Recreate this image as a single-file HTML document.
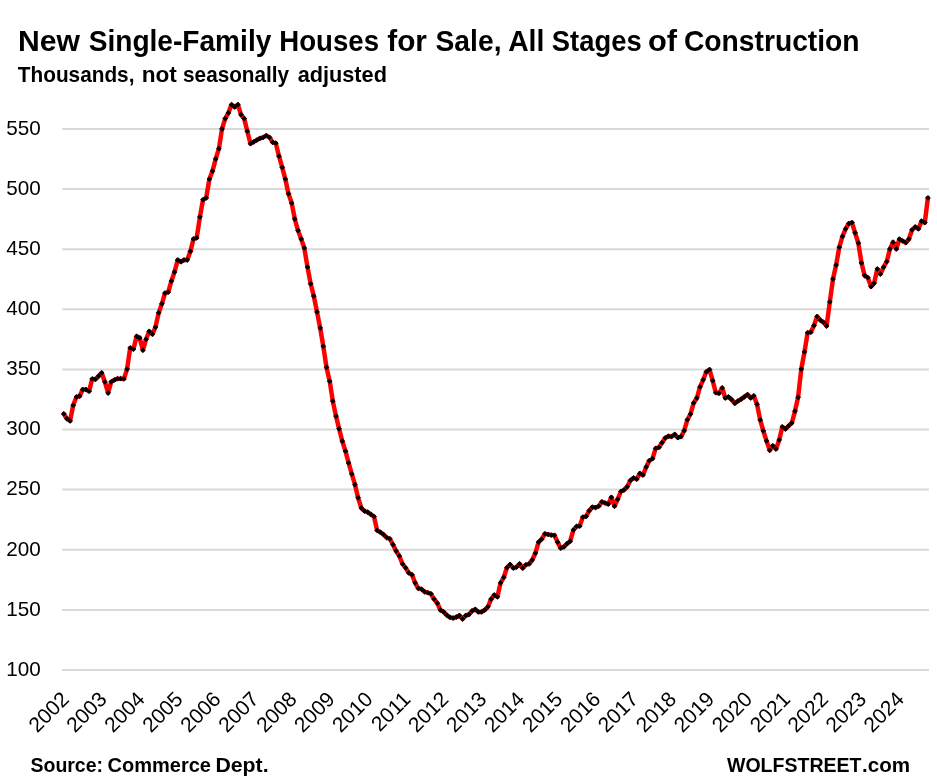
<!DOCTYPE html>
<html><head><meta charset="utf-8"><title>New Single-Family Houses for Sale</title>
<style>
html,body{margin:0;padding:0;background:#fff;}
body{width:937px;height:782px;overflow:hidden;position:relative;font-family:"Liberation Sans",sans-serif;color:#000;}
svg{position:absolute;left:0;top:0;}
text{font-family:"Liberation Sans",sans-serif;fill:#000;}
.t1{font-weight:bold;font-size:30px;}
.t2{font-weight:bold;font-size:22px;}
.ax text{font-size:21px;}
.yr text{font-size:21px;}
.ft{font-weight:bold;font-size:21px;}
</style></head><body>
<svg width="937" height="782" viewBox="0 0 937 782">
<rect width="937" height="782" fill="#fff"/>
<text class="t1" y="50.5"><tspan x="18.03" textLength="61.97" lengthAdjust="spacingAndGlyphs">New</tspan> <tspan x="88.69" textLength="182.62" lengthAdjust="spacingAndGlyphs">Single-Family</tspan> <tspan x="279.34" textLength="99.69" lengthAdjust="spacingAndGlyphs">Houses</tspan> <tspan x="387.27" textLength="39.64" lengthAdjust="spacingAndGlyphs">for</tspan> <tspan x="435.50" textLength="65.99" lengthAdjust="spacingAndGlyphs">Sale,</tspan> <tspan x="508.18" textLength="36.16" lengthAdjust="spacingAndGlyphs">All</tspan> <tspan x="551.87" textLength="89.79" lengthAdjust="spacingAndGlyphs">Stages</tspan> <tspan x="648.03" textLength="29.07" lengthAdjust="spacingAndGlyphs">of</tspan> <tspan x="683.88" textLength="175.74" lengthAdjust="spacingAndGlyphs">Construction</tspan></text>
<text class="t2" y="82.4"><tspan x="17.80" textLength="116.64" lengthAdjust="spacingAndGlyphs">Thousands,</tspan> <tspan x="141.66" textLength="35.16" lengthAdjust="spacingAndGlyphs">not</tspan> <tspan x="183.08" textLength="106.02" lengthAdjust="spacingAndGlyphs">seasonally</tspan> <tspan x="297.67" textLength="89.26" lengthAdjust="spacingAndGlyphs">adjusted</tspan></text>
<g stroke="#d9d9d9" stroke-width="2"><line x1="62.1" x2="928.9" y1="670.0" y2="670.0"/><line x1="62.1" x2="928.9" y1="609.9" y2="609.9"/><line x1="62.1" x2="928.9" y1="549.8" y2="549.8"/><line x1="62.1" x2="928.9" y1="489.6" y2="489.6"/><line x1="62.1" x2="928.9" y1="429.5" y2="429.5"/><line x1="62.1" x2="928.9" y1="369.4" y2="369.4"/><line x1="62.1" x2="928.9" y1="309.3" y2="309.3"/><line x1="62.1" x2="928.9" y1="249.2" y2="249.2"/><line x1="62.1" x2="928.9" y1="189.0" y2="189.0"/><line x1="62.1" x2="928.9" y1="128.9" y2="128.9"/></g>
<g class="ax"><text x="6.3" y="675.7" textLength="34.5" lengthAdjust="spacingAndGlyphs">100</text><text x="6.3" y="615.6" textLength="34.5" lengthAdjust="spacingAndGlyphs">150</text><text x="6.3" y="555.5" textLength="34.5" lengthAdjust="spacingAndGlyphs">200</text><text x="6.3" y="495.3" textLength="34.5" lengthAdjust="spacingAndGlyphs">250</text><text x="6.3" y="435.2" textLength="34.5" lengthAdjust="spacingAndGlyphs">300</text><text x="6.3" y="375.1" textLength="34.5" lengthAdjust="spacingAndGlyphs">350</text><text x="6.3" y="315.0" textLength="34.5" lengthAdjust="spacingAndGlyphs">400</text><text x="6.3" y="254.9" textLength="34.5" lengthAdjust="spacingAndGlyphs">450</text><text x="6.3" y="194.7" textLength="34.5" lengthAdjust="spacingAndGlyphs">500</text><text x="6.3" y="134.6" textLength="34.5" lengthAdjust="spacingAndGlyphs">550</text></g>
<g class="yr"><text transform="translate(70.2 700.5) rotate(-45)" text-anchor="end">2002</text><text transform="translate(108.1 700.5) rotate(-45)" text-anchor="end">2003</text><text transform="translate(146.1 700.5) rotate(-45)" text-anchor="end">2004</text><text transform="translate(184.1 700.5) rotate(-45)" text-anchor="end">2005</text><text transform="translate(222.0 700.5) rotate(-45)" text-anchor="end">2006</text><text transform="translate(260.0 700.5) rotate(-45)" text-anchor="end">2007</text><text transform="translate(298.0 700.5) rotate(-45)" text-anchor="end">2008</text><text transform="translate(335.9 700.5) rotate(-45)" text-anchor="end">2009</text><text transform="translate(373.9 700.5) rotate(-45)" text-anchor="end">2010</text><text transform="translate(411.8 700.5) rotate(-45)" text-anchor="end">2011</text><text transform="translate(449.8 700.5) rotate(-45)" text-anchor="end">2012</text><text transform="translate(487.8 700.5) rotate(-45)" text-anchor="end">2013</text><text transform="translate(525.7 700.5) rotate(-45)" text-anchor="end">2014</text><text transform="translate(563.7 700.5) rotate(-45)" text-anchor="end">2015</text><text transform="translate(601.7 700.5) rotate(-45)" text-anchor="end">2016</text><text transform="translate(639.6 700.5) rotate(-45)" text-anchor="end">2017</text><text transform="translate(677.6 700.5) rotate(-45)" text-anchor="end">2018</text><text transform="translate(715.5 700.5) rotate(-45)" text-anchor="end">2019</text><text transform="translate(753.5 700.5) rotate(-45)" text-anchor="end">2020</text><text transform="translate(791.5 700.5) rotate(-45)" text-anchor="end">2021</text><text transform="translate(829.4 700.5) rotate(-45)" text-anchor="end">2022</text><text transform="translate(867.4 700.5) rotate(-45)" text-anchor="end">2023</text><text transform="translate(905.3 700.5) rotate(-45)" text-anchor="end">2024</text></g>
<path d="M63.8 413.9 L66.9 418.7 L70.1 420.9 L73.2 405.2 L76.4 397.0 L79.6 396.2 L82.7 389.5 L85.9 389.5 L89.1 391.2 L92.2 378.9 L95.4 379.3 L98.6 376.1 L101.7 372.9 L104.9 381.9 L108.1 393.0 L111.2 381.9 L114.4 379.9 L117.6 378.7 L120.7 378.7 L123.9 378.9 L127.1 369.1 L130.2 347.9 L133.4 349.2 L136.6 336.4 L139.7 337.9 L142.9 350.2 L146.1 339.2 L149.2 331.3 L152.4 334.2 L155.5 327.1 L158.7 312.8 L161.9 303.8 L165.0 293.1 L168.2 292.2 L171.4 281.1 L174.5 272.1 L177.7 260.0 L180.9 261.8 L184.0 260.0 L187.2 260.0 L190.4 251.4 L193.5 239.0 L196.7 237.9 L199.9 217.0 L203.0 199.8 L206.2 197.9 L209.4 179.0 L212.5 171.1 L215.7 158.9 L218.9 148.7 L222.0 129.0 L225.2 118.6 L228.4 112.9 L231.5 104.7 L234.7 107.0 L237.9 104.7 L241.0 114.7 L244.2 118.6 L247.3 131.2 L250.5 143.7 L253.7 141.9 L256.8 140.1 L260.0 138.3 L263.2 137.4 L266.3 135.6 L269.5 137.4 L272.7 142.4 L275.8 143.2 L279.0 156.2 L282.2 167.3 L285.3 179.0 L288.5 193.8 L291.7 203.1 L294.8 219.0 L298.0 230.5 L301.2 239.0 L304.3 248.0 L307.5 267.1 L310.7 283.8 L313.8 296.1 L317.0 311.9 L320.2 328.0 L323.3 346.3 L326.5 367.4 L329.7 381.2 L332.8 401.1 L336.0 416.1 L339.1 428.8 L342.3 441.2 L345.5 451.2 L348.6 462.9 L351.8 474.0 L355.0 484.7 L358.1 497.8 L361.3 508.0 L364.5 511.1 L367.6 512.1 L370.8 514.3 L374.0 516.6 L377.1 530.4 L380.3 532.2 L383.5 534.5 L386.6 537.5 L389.8 538.8 L393.0 544.7 L396.1 551.0 L399.3 556.0 L402.5 563.9 L405.6 567.8 L408.8 572.9 L412.0 574.8 L415.1 582.8 L418.3 588.3 L421.5 589.2 L424.6 591.8 L427.8 592.7 L430.9 593.8 L434.1 599.1 L437.3 603.2 L440.4 610.0 L443.6 611.9 L446.8 615.1 L449.9 617.3 L453.1 618.1 L456.3 617.1 L459.4 615.5 L462.6 619.0 L465.8 615.5 L468.9 614.5 L472.1 610.9 L475.3 609.4 L478.4 611.9 L481.6 611.9 L484.8 610.0 L487.9 606.8 L491.1 599.1 L494.3 595.0 L497.4 596.8 L500.6 582.8 L503.8 577.3 L506.9 567.7 L510.1 564.5 L513.3 568.1 L516.4 567.1 L519.6 563.9 L522.7 568.1 L525.9 564.8 L529.1 563.9 L532.2 560.0 L535.4 553.2 L538.6 542.1 L541.7 539.2 L544.9 533.8 L548.1 534.4 L551.2 535.1 L554.4 535.3 L557.6 542.1 L560.7 548.1 L563.9 546.8 L567.1 543.6 L570.2 541.2 L573.4 529.9 L576.6 526.4 L579.7 526.1 L582.9 517.1 L586.1 516.5 L589.2 510.7 L592.4 507.1 L595.6 507.5 L598.7 506.2 L601.9 501.8 L605.1 503.0 L608.2 504.1 L611.4 497.3 L614.5 506.2 L617.7 499.2 L620.9 491.5 L624.0 490.0 L627.2 486.8 L630.4 480.4 L633.5 477.9 L636.7 479.1 L639.9 473.4 L643.0 475.0 L646.2 467.0 L649.4 460.6 L652.5 458.7 L655.7 448.4 L658.9 447.4 L662.0 442.7 L665.2 437.9 L668.4 436.2 L671.5 436.5 L674.7 434.4 L677.9 437.7 L681.0 436.7 L684.2 430.7 L687.4 419.7 L690.5 414.0 L693.7 402.9 L696.9 398.0 L700.0 386.9 L703.2 379.8 L706.3 371.8 L709.5 369.6 L712.7 380.7 L715.8 392.7 L719.0 393.3 L722.2 387.9 L725.3 398.0 L728.5 396.9 L731.7 399.7 L734.8 403.3 L738.0 401.0 L741.2 399.1 L744.3 396.9 L747.5 394.6 L750.7 398.0 L753.8 395.9 L757.0 404.2 L760.2 419.9 L763.3 430.8 L766.5 440.9 L769.7 450.3 L772.8 445.8 L776.0 449.0 L779.2 440.0 L782.3 426.9 L785.5 429.0 L788.6 425.9 L791.8 423.0 L795.0 411.1 L798.1 397.3 L801.3 369.0 L804.5 351.9 L807.6 332.8 L810.8 332.2 L814.0 325.6 L817.1 316.5 L820.3 320.1 L823.5 322.4 L826.6 326.0 L829.8 302.0 L833.0 279.0 L836.1 265.1 L839.3 247.2 L842.5 236.4 L845.6 228.9 L848.8 223.5 L852.0 222.6 L855.1 232.8 L858.3 243.0 L861.5 262.9 L864.6 275.5 L867.8 277.6 L871.0 286.6 L874.1 283.3 L877.3 269.0 L880.4 274.0 L883.6 267.2 L886.8 261.5 L889.9 249.0 L893.1 242.2 L896.3 249.0 L899.4 239.1 L902.6 240.9 L905.8 242.7 L908.9 239.1 L912.1 229.8 L915.3 226.9 L918.4 228.9 L921.6 221.2 L924.8 222.6 L927.9 197.9" fill="none" stroke="#ff0000" stroke-width="4.5" stroke-linejoin="round" stroke-linecap="round"/>
<path d="M63.8 411.5l2.4 2.4l-2.4 2.4l-2.4-2.4zM66.9 416.3l2.4 2.4l-2.4 2.4l-2.4-2.4zM70.1 418.5l2.4 2.4l-2.4 2.4l-2.4-2.4zM73.2 402.8l2.4 2.4l-2.4 2.4l-2.4-2.4zM76.4 394.6l2.4 2.4l-2.4 2.4l-2.4-2.4zM79.6 393.8l2.4 2.4l-2.4 2.4l-2.4-2.4zM82.7 387.1l2.4 2.4l-2.4 2.4l-2.4-2.4zM85.9 387.1l2.4 2.4l-2.4 2.4l-2.4-2.4zM89.1 388.8l2.4 2.4l-2.4 2.4l-2.4-2.4zM92.2 376.5l2.4 2.4l-2.4 2.4l-2.4-2.4zM95.4 376.9l2.4 2.4l-2.4 2.4l-2.4-2.4zM98.6 373.7l2.4 2.4l-2.4 2.4l-2.4-2.4zM101.7 370.5l2.4 2.4l-2.4 2.4l-2.4-2.4zM104.9 379.5l2.4 2.4l-2.4 2.4l-2.4-2.4zM108.1 390.6l2.4 2.4l-2.4 2.4l-2.4-2.4zM111.2 379.5l2.4 2.4l-2.4 2.4l-2.4-2.4zM114.4 377.5l2.4 2.4l-2.4 2.4l-2.4-2.4zM117.6 376.3l2.4 2.4l-2.4 2.4l-2.4-2.4zM120.7 376.3l2.4 2.4l-2.4 2.4l-2.4-2.4zM123.9 376.5l2.4 2.4l-2.4 2.4l-2.4-2.4zM127.1 366.7l2.4 2.4l-2.4 2.4l-2.4-2.4zM130.2 345.5l2.4 2.4l-2.4 2.4l-2.4-2.4zM133.4 346.8l2.4 2.4l-2.4 2.4l-2.4-2.4zM136.6 334.0l2.4 2.4l-2.4 2.4l-2.4-2.4zM139.7 335.5l2.4 2.4l-2.4 2.4l-2.4-2.4zM142.9 347.8l2.4 2.4l-2.4 2.4l-2.4-2.4zM146.1 336.8l2.4 2.4l-2.4 2.4l-2.4-2.4zM149.2 328.9l2.4 2.4l-2.4 2.4l-2.4-2.4zM152.4 331.8l2.4 2.4l-2.4 2.4l-2.4-2.4zM155.5 324.7l2.4 2.4l-2.4 2.4l-2.4-2.4zM158.7 310.4l2.4 2.4l-2.4 2.4l-2.4-2.4zM161.9 301.4l2.4 2.4l-2.4 2.4l-2.4-2.4zM165.0 290.7l2.4 2.4l-2.4 2.4l-2.4-2.4zM168.2 289.8l2.4 2.4l-2.4 2.4l-2.4-2.4zM171.4 278.7l2.4 2.4l-2.4 2.4l-2.4-2.4zM174.5 269.7l2.4 2.4l-2.4 2.4l-2.4-2.4zM177.7 257.6l2.4 2.4l-2.4 2.4l-2.4-2.4zM180.9 259.4l2.4 2.4l-2.4 2.4l-2.4-2.4zM184.0 257.6l2.4 2.4l-2.4 2.4l-2.4-2.4zM187.2 257.6l2.4 2.4l-2.4 2.4l-2.4-2.4zM190.4 249.0l2.4 2.4l-2.4 2.4l-2.4-2.4zM193.5 236.6l2.4 2.4l-2.4 2.4l-2.4-2.4zM196.7 235.5l2.4 2.4l-2.4 2.4l-2.4-2.4zM199.9 214.6l2.4 2.4l-2.4 2.4l-2.4-2.4zM203.0 197.4l2.4 2.4l-2.4 2.4l-2.4-2.4zM206.2 195.5l2.4 2.4l-2.4 2.4l-2.4-2.4zM209.4 176.6l2.4 2.4l-2.4 2.4l-2.4-2.4zM212.5 168.7l2.4 2.4l-2.4 2.4l-2.4-2.4zM215.7 156.5l2.4 2.4l-2.4 2.4l-2.4-2.4zM218.9 146.3l2.4 2.4l-2.4 2.4l-2.4-2.4zM222.0 126.6l2.4 2.4l-2.4 2.4l-2.4-2.4zM225.2 116.2l2.4 2.4l-2.4 2.4l-2.4-2.4zM228.4 110.5l2.4 2.4l-2.4 2.4l-2.4-2.4zM231.5 102.3l2.4 2.4l-2.4 2.4l-2.4-2.4zM234.7 104.6l2.4 2.4l-2.4 2.4l-2.4-2.4zM237.9 102.3l2.4 2.4l-2.4 2.4l-2.4-2.4zM241.0 112.3l2.4 2.4l-2.4 2.4l-2.4-2.4zM244.2 116.2l2.4 2.4l-2.4 2.4l-2.4-2.4zM247.3 128.8l2.4 2.4l-2.4 2.4l-2.4-2.4zM250.5 141.3l2.4 2.4l-2.4 2.4l-2.4-2.4zM253.7 139.5l2.4 2.4l-2.4 2.4l-2.4-2.4zM256.8 137.7l2.4 2.4l-2.4 2.4l-2.4-2.4zM260.0 135.9l2.4 2.4l-2.4 2.4l-2.4-2.4zM263.2 135.0l2.4 2.4l-2.4 2.4l-2.4-2.4zM266.3 133.2l2.4 2.4l-2.4 2.4l-2.4-2.4zM269.5 135.0l2.4 2.4l-2.4 2.4l-2.4-2.4zM272.7 140.0l2.4 2.4l-2.4 2.4l-2.4-2.4zM275.8 140.8l2.4 2.4l-2.4 2.4l-2.4-2.4zM279.0 153.8l2.4 2.4l-2.4 2.4l-2.4-2.4zM282.2 164.9l2.4 2.4l-2.4 2.4l-2.4-2.4zM285.3 176.6l2.4 2.4l-2.4 2.4l-2.4-2.4zM288.5 191.4l2.4 2.4l-2.4 2.4l-2.4-2.4zM291.7 200.7l2.4 2.4l-2.4 2.4l-2.4-2.4zM294.8 216.6l2.4 2.4l-2.4 2.4l-2.4-2.4zM298.0 228.1l2.4 2.4l-2.4 2.4l-2.4-2.4zM301.2 236.6l2.4 2.4l-2.4 2.4l-2.4-2.4zM304.3 245.6l2.4 2.4l-2.4 2.4l-2.4-2.4zM307.5 264.7l2.4 2.4l-2.4 2.4l-2.4-2.4zM310.7 281.4l2.4 2.4l-2.4 2.4l-2.4-2.4zM313.8 293.7l2.4 2.4l-2.4 2.4l-2.4-2.4zM317.0 309.5l2.4 2.4l-2.4 2.4l-2.4-2.4zM320.2 325.6l2.4 2.4l-2.4 2.4l-2.4-2.4zM323.3 343.9l2.4 2.4l-2.4 2.4l-2.4-2.4zM326.5 365.0l2.4 2.4l-2.4 2.4l-2.4-2.4zM329.7 378.8l2.4 2.4l-2.4 2.4l-2.4-2.4zM332.8 398.7l2.4 2.4l-2.4 2.4l-2.4-2.4zM336.0 413.7l2.4 2.4l-2.4 2.4l-2.4-2.4zM339.1 426.4l2.4 2.4l-2.4 2.4l-2.4-2.4zM342.3 438.8l2.4 2.4l-2.4 2.4l-2.4-2.4zM345.5 448.8l2.4 2.4l-2.4 2.4l-2.4-2.4zM348.6 460.5l2.4 2.4l-2.4 2.4l-2.4-2.4zM351.8 471.6l2.4 2.4l-2.4 2.4l-2.4-2.4zM355.0 482.3l2.4 2.4l-2.4 2.4l-2.4-2.4zM358.1 495.4l2.4 2.4l-2.4 2.4l-2.4-2.4zM361.3 505.6l2.4 2.4l-2.4 2.4l-2.4-2.4zM364.5 508.7l2.4 2.4l-2.4 2.4l-2.4-2.4zM367.6 509.7l2.4 2.4l-2.4 2.4l-2.4-2.4zM370.8 511.9l2.4 2.4l-2.4 2.4l-2.4-2.4zM374.0 514.2l2.4 2.4l-2.4 2.4l-2.4-2.4zM377.1 528.0l2.4 2.4l-2.4 2.4l-2.4-2.4zM380.3 529.8l2.4 2.4l-2.4 2.4l-2.4-2.4zM383.5 532.1l2.4 2.4l-2.4 2.4l-2.4-2.4zM386.6 535.1l2.4 2.4l-2.4 2.4l-2.4-2.4zM389.8 536.4l2.4 2.4l-2.4 2.4l-2.4-2.4zM393.0 542.3l2.4 2.4l-2.4 2.4l-2.4-2.4zM396.1 548.6l2.4 2.4l-2.4 2.4l-2.4-2.4zM399.3 553.6l2.4 2.4l-2.4 2.4l-2.4-2.4zM402.5 561.5l2.4 2.4l-2.4 2.4l-2.4-2.4zM405.6 565.4l2.4 2.4l-2.4 2.4l-2.4-2.4zM408.8 570.5l2.4 2.4l-2.4 2.4l-2.4-2.4zM412.0 572.4l2.4 2.4l-2.4 2.4l-2.4-2.4zM415.1 580.4l2.4 2.4l-2.4 2.4l-2.4-2.4zM418.3 585.9l2.4 2.4l-2.4 2.4l-2.4-2.4zM421.5 586.8l2.4 2.4l-2.4 2.4l-2.4-2.4zM424.6 589.4l2.4 2.4l-2.4 2.4l-2.4-2.4zM427.8 590.3l2.4 2.4l-2.4 2.4l-2.4-2.4zM430.9 591.4l2.4 2.4l-2.4 2.4l-2.4-2.4zM434.1 596.7l2.4 2.4l-2.4 2.4l-2.4-2.4zM437.3 600.8l2.4 2.4l-2.4 2.4l-2.4-2.4zM440.4 607.6l2.4 2.4l-2.4 2.4l-2.4-2.4zM443.6 609.5l2.4 2.4l-2.4 2.4l-2.4-2.4zM446.8 612.7l2.4 2.4l-2.4 2.4l-2.4-2.4zM449.9 614.9l2.4 2.4l-2.4 2.4l-2.4-2.4zM453.1 615.7l2.4 2.4l-2.4 2.4l-2.4-2.4zM456.3 614.7l2.4 2.4l-2.4 2.4l-2.4-2.4zM459.4 613.1l2.4 2.4l-2.4 2.4l-2.4-2.4zM462.6 616.6l2.4 2.4l-2.4 2.4l-2.4-2.4zM465.8 613.1l2.4 2.4l-2.4 2.4l-2.4-2.4zM468.9 612.1l2.4 2.4l-2.4 2.4l-2.4-2.4zM472.1 608.5l2.4 2.4l-2.4 2.4l-2.4-2.4zM475.3 607.0l2.4 2.4l-2.4 2.4l-2.4-2.4zM478.4 609.5l2.4 2.4l-2.4 2.4l-2.4-2.4zM481.6 609.5l2.4 2.4l-2.4 2.4l-2.4-2.4zM484.8 607.6l2.4 2.4l-2.4 2.4l-2.4-2.4zM487.9 604.4l2.4 2.4l-2.4 2.4l-2.4-2.4zM491.1 596.7l2.4 2.4l-2.4 2.4l-2.4-2.4zM494.3 592.6l2.4 2.4l-2.4 2.4l-2.4-2.4zM497.4 594.4l2.4 2.4l-2.4 2.4l-2.4-2.4zM500.6 580.4l2.4 2.4l-2.4 2.4l-2.4-2.4zM503.8 574.9l2.4 2.4l-2.4 2.4l-2.4-2.4zM506.9 565.3l2.4 2.4l-2.4 2.4l-2.4-2.4zM510.1 562.1l2.4 2.4l-2.4 2.4l-2.4-2.4zM513.3 565.7l2.4 2.4l-2.4 2.4l-2.4-2.4zM516.4 564.7l2.4 2.4l-2.4 2.4l-2.4-2.4zM519.6 561.5l2.4 2.4l-2.4 2.4l-2.4-2.4zM522.7 565.7l2.4 2.4l-2.4 2.4l-2.4-2.4zM525.9 562.4l2.4 2.4l-2.4 2.4l-2.4-2.4zM529.1 561.5l2.4 2.4l-2.4 2.4l-2.4-2.4zM532.2 557.6l2.4 2.4l-2.4 2.4l-2.4-2.4zM535.4 550.8l2.4 2.4l-2.4 2.4l-2.4-2.4zM538.6 539.7l2.4 2.4l-2.4 2.4l-2.4-2.4zM541.7 536.8l2.4 2.4l-2.4 2.4l-2.4-2.4zM544.9 531.4l2.4 2.4l-2.4 2.4l-2.4-2.4zM548.1 532.0l2.4 2.4l-2.4 2.4l-2.4-2.4zM551.2 532.7l2.4 2.4l-2.4 2.4l-2.4-2.4zM554.4 532.9l2.4 2.4l-2.4 2.4l-2.4-2.4zM557.6 539.7l2.4 2.4l-2.4 2.4l-2.4-2.4zM560.7 545.7l2.4 2.4l-2.4 2.4l-2.4-2.4zM563.9 544.4l2.4 2.4l-2.4 2.4l-2.4-2.4zM567.1 541.2l2.4 2.4l-2.4 2.4l-2.4-2.4zM570.2 538.8l2.4 2.4l-2.4 2.4l-2.4-2.4zM573.4 527.5l2.4 2.4l-2.4 2.4l-2.4-2.4zM576.6 524.0l2.4 2.4l-2.4 2.4l-2.4-2.4zM579.7 523.7l2.4 2.4l-2.4 2.4l-2.4-2.4zM582.9 514.7l2.4 2.4l-2.4 2.4l-2.4-2.4zM586.1 514.1l2.4 2.4l-2.4 2.4l-2.4-2.4zM589.2 508.3l2.4 2.4l-2.4 2.4l-2.4-2.4zM592.4 504.7l2.4 2.4l-2.4 2.4l-2.4-2.4zM595.6 505.1l2.4 2.4l-2.4 2.4l-2.4-2.4zM598.7 503.8l2.4 2.4l-2.4 2.4l-2.4-2.4zM601.9 499.4l2.4 2.4l-2.4 2.4l-2.4-2.4zM605.1 500.6l2.4 2.4l-2.4 2.4l-2.4-2.4zM608.2 501.7l2.4 2.4l-2.4 2.4l-2.4-2.4zM611.4 494.9l2.4 2.4l-2.4 2.4l-2.4-2.4zM614.5 503.8l2.4 2.4l-2.4 2.4l-2.4-2.4zM617.7 496.8l2.4 2.4l-2.4 2.4l-2.4-2.4zM620.9 489.1l2.4 2.4l-2.4 2.4l-2.4-2.4zM624.0 487.6l2.4 2.4l-2.4 2.4l-2.4-2.4zM627.2 484.4l2.4 2.4l-2.4 2.4l-2.4-2.4zM630.4 478.0l2.4 2.4l-2.4 2.4l-2.4-2.4zM633.5 475.5l2.4 2.4l-2.4 2.4l-2.4-2.4zM636.7 476.7l2.4 2.4l-2.4 2.4l-2.4-2.4zM639.9 471.0l2.4 2.4l-2.4 2.4l-2.4-2.4zM643.0 472.6l2.4 2.4l-2.4 2.4l-2.4-2.4zM646.2 464.6l2.4 2.4l-2.4 2.4l-2.4-2.4zM649.4 458.2l2.4 2.4l-2.4 2.4l-2.4-2.4zM652.5 456.3l2.4 2.4l-2.4 2.4l-2.4-2.4zM655.7 446.0l2.4 2.4l-2.4 2.4l-2.4-2.4zM658.9 445.0l2.4 2.4l-2.4 2.4l-2.4-2.4zM662.0 440.3l2.4 2.4l-2.4 2.4l-2.4-2.4zM665.2 435.5l2.4 2.4l-2.4 2.4l-2.4-2.4zM668.4 433.8l2.4 2.4l-2.4 2.4l-2.4-2.4zM671.5 434.1l2.4 2.4l-2.4 2.4l-2.4-2.4zM674.7 432.0l2.4 2.4l-2.4 2.4l-2.4-2.4zM677.9 435.3l2.4 2.4l-2.4 2.4l-2.4-2.4zM681.0 434.3l2.4 2.4l-2.4 2.4l-2.4-2.4zM684.2 428.3l2.4 2.4l-2.4 2.4l-2.4-2.4zM687.4 417.3l2.4 2.4l-2.4 2.4l-2.4-2.4zM690.5 411.6l2.4 2.4l-2.4 2.4l-2.4-2.4zM693.7 400.5l2.4 2.4l-2.4 2.4l-2.4-2.4zM696.9 395.6l2.4 2.4l-2.4 2.4l-2.4-2.4zM700.0 384.5l2.4 2.4l-2.4 2.4l-2.4-2.4zM703.2 377.4l2.4 2.4l-2.4 2.4l-2.4-2.4zM706.3 369.4l2.4 2.4l-2.4 2.4l-2.4-2.4zM709.5 367.2l2.4 2.4l-2.4 2.4l-2.4-2.4zM712.7 378.3l2.4 2.4l-2.4 2.4l-2.4-2.4zM715.8 390.3l2.4 2.4l-2.4 2.4l-2.4-2.4zM719.0 390.9l2.4 2.4l-2.4 2.4l-2.4-2.4zM722.2 385.5l2.4 2.4l-2.4 2.4l-2.4-2.4zM725.3 395.6l2.4 2.4l-2.4 2.4l-2.4-2.4zM728.5 394.5l2.4 2.4l-2.4 2.4l-2.4-2.4zM731.7 397.3l2.4 2.4l-2.4 2.4l-2.4-2.4zM734.8 400.9l2.4 2.4l-2.4 2.4l-2.4-2.4zM738.0 398.6l2.4 2.4l-2.4 2.4l-2.4-2.4zM741.2 396.7l2.4 2.4l-2.4 2.4l-2.4-2.4zM744.3 394.5l2.4 2.4l-2.4 2.4l-2.4-2.4zM747.5 392.2l2.4 2.4l-2.4 2.4l-2.4-2.4zM750.7 395.6l2.4 2.4l-2.4 2.4l-2.4-2.4zM753.8 393.5l2.4 2.4l-2.4 2.4l-2.4-2.4zM757.0 401.8l2.4 2.4l-2.4 2.4l-2.4-2.4zM760.2 417.5l2.4 2.4l-2.4 2.4l-2.4-2.4zM763.3 428.4l2.4 2.4l-2.4 2.4l-2.4-2.4zM766.5 438.5l2.4 2.4l-2.4 2.4l-2.4-2.4zM769.7 447.9l2.4 2.4l-2.4 2.4l-2.4-2.4zM772.8 443.4l2.4 2.4l-2.4 2.4l-2.4-2.4zM776.0 446.6l2.4 2.4l-2.4 2.4l-2.4-2.4zM779.2 437.6l2.4 2.4l-2.4 2.4l-2.4-2.4zM782.3 424.5l2.4 2.4l-2.4 2.4l-2.4-2.4zM785.5 426.6l2.4 2.4l-2.4 2.4l-2.4-2.4zM788.6 423.5l2.4 2.4l-2.4 2.4l-2.4-2.4zM791.8 420.6l2.4 2.4l-2.4 2.4l-2.4-2.4zM795.0 408.7l2.4 2.4l-2.4 2.4l-2.4-2.4zM798.1 394.9l2.4 2.4l-2.4 2.4l-2.4-2.4zM801.3 366.6l2.4 2.4l-2.4 2.4l-2.4-2.4zM804.5 349.5l2.4 2.4l-2.4 2.4l-2.4-2.4zM807.6 330.4l2.4 2.4l-2.4 2.4l-2.4-2.4zM810.8 329.8l2.4 2.4l-2.4 2.4l-2.4-2.4zM814.0 323.2l2.4 2.4l-2.4 2.4l-2.4-2.4zM817.1 314.1l2.4 2.4l-2.4 2.4l-2.4-2.4zM820.3 317.7l2.4 2.4l-2.4 2.4l-2.4-2.4zM823.5 320.0l2.4 2.4l-2.4 2.4l-2.4-2.4zM826.6 323.6l2.4 2.4l-2.4 2.4l-2.4-2.4zM829.8 299.6l2.4 2.4l-2.4 2.4l-2.4-2.4zM833.0 276.6l2.4 2.4l-2.4 2.4l-2.4-2.4zM836.1 262.7l2.4 2.4l-2.4 2.4l-2.4-2.4zM839.3 244.8l2.4 2.4l-2.4 2.4l-2.4-2.4zM842.5 234.0l2.4 2.4l-2.4 2.4l-2.4-2.4zM845.6 226.5l2.4 2.4l-2.4 2.4l-2.4-2.4zM848.8 221.1l2.4 2.4l-2.4 2.4l-2.4-2.4zM852.0 220.2l2.4 2.4l-2.4 2.4l-2.4-2.4zM855.1 230.4l2.4 2.4l-2.4 2.4l-2.4-2.4zM858.3 240.6l2.4 2.4l-2.4 2.4l-2.4-2.4zM861.5 260.5l2.4 2.4l-2.4 2.4l-2.4-2.4zM864.6 273.1l2.4 2.4l-2.4 2.4l-2.4-2.4zM867.8 275.2l2.4 2.4l-2.4 2.4l-2.4-2.4zM871.0 284.2l2.4 2.4l-2.4 2.4l-2.4-2.4zM874.1 280.9l2.4 2.4l-2.4 2.4l-2.4-2.4zM877.3 266.6l2.4 2.4l-2.4 2.4l-2.4-2.4zM880.4 271.6l2.4 2.4l-2.4 2.4l-2.4-2.4zM883.6 264.8l2.4 2.4l-2.4 2.4l-2.4-2.4zM886.8 259.1l2.4 2.4l-2.4 2.4l-2.4-2.4zM889.9 246.6l2.4 2.4l-2.4 2.4l-2.4-2.4zM893.1 239.8l2.4 2.4l-2.4 2.4l-2.4-2.4zM896.3 246.6l2.4 2.4l-2.4 2.4l-2.4-2.4zM899.4 236.7l2.4 2.4l-2.4 2.4l-2.4-2.4zM902.6 238.5l2.4 2.4l-2.4 2.4l-2.4-2.4zM905.8 240.3l2.4 2.4l-2.4 2.4l-2.4-2.4zM908.9 236.7l2.4 2.4l-2.4 2.4l-2.4-2.4zM912.1 227.4l2.4 2.4l-2.4 2.4l-2.4-2.4zM915.3 224.5l2.4 2.4l-2.4 2.4l-2.4-2.4zM918.4 226.5l2.4 2.4l-2.4 2.4l-2.4-2.4zM921.6 218.8l2.4 2.4l-2.4 2.4l-2.4-2.4zM924.8 220.2l2.4 2.4l-2.4 2.4l-2.4-2.4zM927.9 195.5l2.4 2.4l-2.4 2.4l-2.4-2.4z" fill="#000" stroke="#000" stroke-width="0.8" stroke-linejoin="miter"/>
<text class="ft" y="771.9"><tspan x="30.47" textLength="72.58" lengthAdjust="spacingAndGlyphs">Source:</tspan> <tspan x="107.48" textLength="103.52" lengthAdjust="spacingAndGlyphs">Commerce</tspan> <tspan x="215.43" textLength="53.15" lengthAdjust="spacingAndGlyphs">Dept.</tspan></text>
<text class="ft" y="771.9"><tspan x="727.00" textLength="134.50" lengthAdjust="spacingAndGlyphs">WOLFSTREET</tspan><tspan x="862.00" textLength="48.00" lengthAdjust="spacingAndGlyphs">.com</tspan></text>
</svg>
</body></html>
